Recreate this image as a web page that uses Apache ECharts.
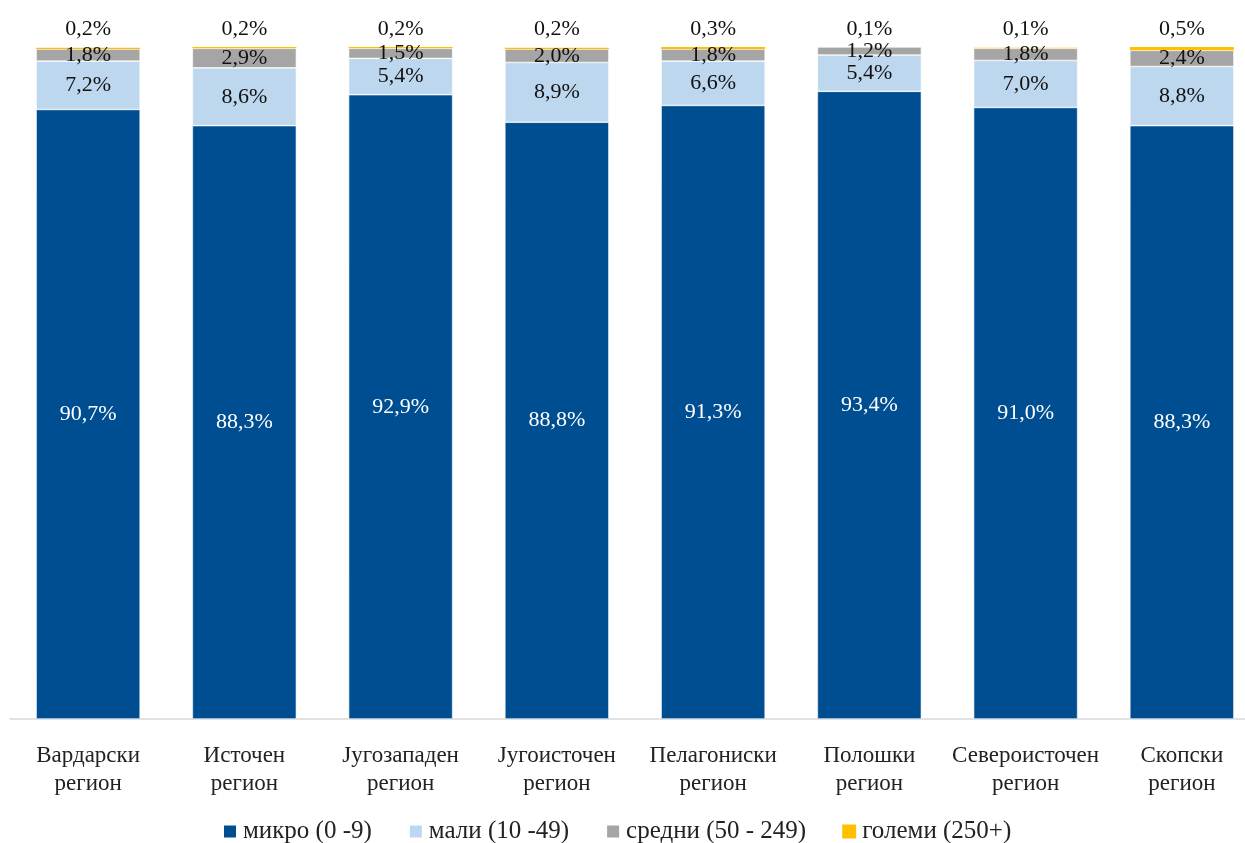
<!DOCTYPE html>
<html><head><meta charset="utf-8">
<script src="https://cdn.jsdelivr.net/npm/echarts@6/dist/echarts.min.js"></script>
<style>html,body{margin:0;padding:0;background:#fff;overflow:hidden;width:1245px;height:843px}#c{width:1262px;height:843px}</style>
</head><body><div id="c"></div>
<script>
const categories = ['Вардарски\nрегион','Источен\nрегион','Југозападен\nрегион','Југоисточен\nрегион','Пелагониски\nрегион','Полошки\nрегион','Североисточен\nрегион','Скопски\nрегион'];
const seriesNames = ['микро (0 -9)','мали (10 -49)','средни (50 - 249)','големи (250+)'];
const micro = [90.7, 88.3, 92.9, 88.8, 91.3, 93.4, 91.0, 88.3];
const mali = [7.2, 8.6, 5.4, 8.9, 6.6, 5.4, 7.0, 8.8];
const sredni = [1.8, 2.9, 1.5, 2.0, 1.8, 1.2, 1.8, 2.4];
const golemi = [0.2, 0.2, 0.2, 0.2, 0.3, 0.1, 0.1, 0.5];
const colors = ['#004E92','#BDD7EE','#A5A5A5','#FFC000'];
const FONT = '"Liberation Serif", serif';
const fmt = p => p.value.toFixed(1).replace('.', ',') + '%';
const datas = [micro, mali, sredni, golemi];
const series = datas.map((d, i) => ({
  name: seriesNames[i], type: 'bar', stack: 'total', data: d,
  barWidth: 104,
  itemStyle: {color: colors[i], borderColor: '#fff', borderWidth: i === 3 ? 0 : 0.6},
  label: {show: true, position: i === 3 ? 'top' : 'inside', formatter: fmt,
    color: i === 0 ? '#fff' : '#111', fontFamily: FONT, fontSize: 22, distance: 7}
}));
const chart = echarts.init(document.getElementById('c'), null, {renderer: 'canvas'});
chart.setOption({
  animation: false,
  color: colors,
  grid: {left: 10, right: 2, top: 47, bottom: 124, containLabel: false},
  xAxis: {type: 'category', data: categories,
    axisLine: {lineStyle: {color: '#D9D9D9', width: 1.5}}, axisTick: {show: false},
    axisLabel: {interval: 0, color: '#222', fontFamily: FONT, fontSize: 23, lineHeight: 28, margin: 23}},
  yAxis: {type: 'value', min: 0, max: 100, show: false, splitLine: {show: false}},
  legend: {top: 814, left: 217, itemWidth: 14, itemHeight: 14, itemGap: 36,
    icon: 'rect',
    textStyle: {fontFamily: FONT, fontSize: 25, color: '#222', padding: [0,0,0,1]}},
  series
});
</script></body></html>
